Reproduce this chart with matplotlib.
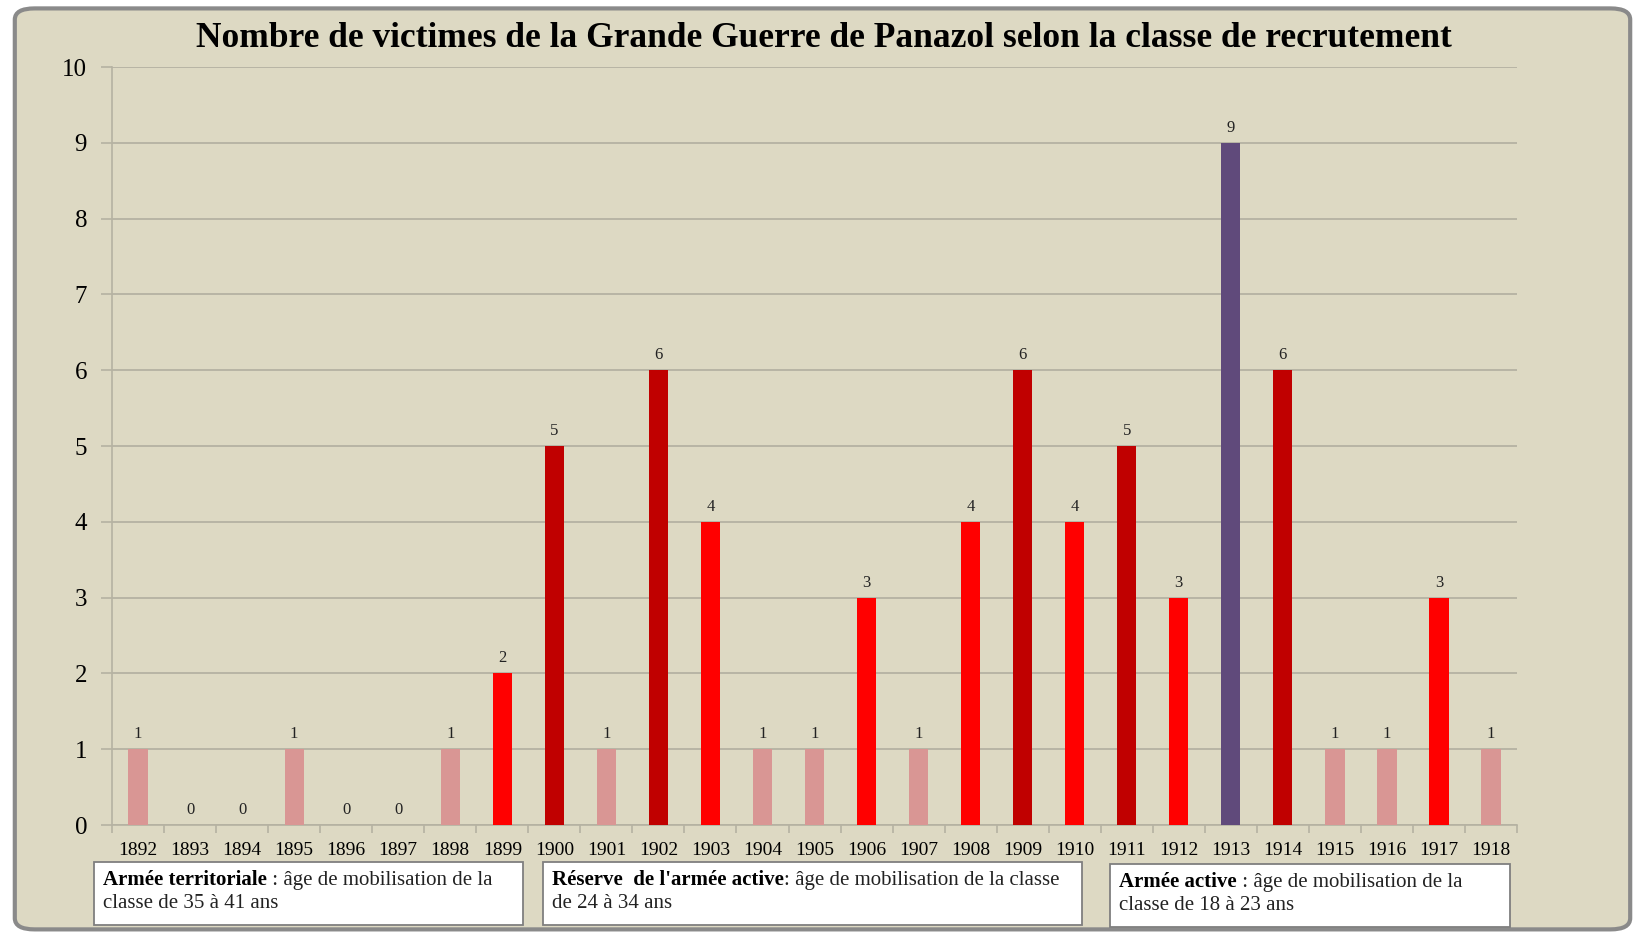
import numpy as np
import matplotlib.pyplot as plt
from matplotlib.patches import FancyBboxPatch, Rectangle

# data
years = [str(y) for y in range(1892, 1919)]
victims = [1, 0, 0, 1, 0, 0, 1, 2, 5, 1, 6, 4, 1, 1, 3, 1, 4, 6, 4, 5, 3, 9, 6, 1, 1, 3, 1]
bar_colors = ['#D99694', '#D99694', '#D99694', '#D99694', '#D99694', '#D99694', '#D99694',
              '#FF0000', '#C00000', '#D99694', '#C00000', '#FF0000', '#D99694', '#D99694',
              '#FF0000', '#D99694', '#FF0000', '#C00000', '#FF0000', '#C00000', '#FF0000',
              '#604A7B', '#C00000', '#D99694', '#D99694', '#FF0000', '#D99694']

title = "Nombre de victimes de la Grande Guerre de Panazol selon la classe de recrutement"
boxes = [
    ("Armée territoriale", " : âge de mobilisation de la", "classe de 35 à 41 ans"),
    ("Réserve  de l'armée active", ": âge de mobilisation de la classe", "de 24 à 34 ans"),
    ("Armée active", " : âge de mobilisation de la", "classe de 18 à 23 ans"),
]

FONT = 'Liberation Serif'
plt.rcParams['font.family'] = FONT
bg = '#DDD9C3'
grid_c = '#B5B2A2'

fig = plt.figure(figsize=(16.45, 9.35), dpi=100)
fig.patch.set_facecolor('white')

# rounded frame
frame = FancyBboxPatch((0.009, 0.006), 0.982, 0.985,
                       boxstyle='round,pad=0,rounding_size=0.012',
                       transform=fig.transFigure, facecolor=bg,
                       edgecolor='#8A8A8A', linewidth=3, zorder=-10)
fig.patches.append(frame)

ax = fig.add_axes([0.0681, 0.1176, 0.8541, 0.8107])
ax.set_facecolor('none')
ax.set_zorder(2)

x = np.arange(len(years))
ax.bar(x, victims, width=0.37, color=bar_colors, zorder=3)
for xi, v in zip(x, victims):
    ax.annotate(str(v), (xi, v), xytext=(0, 5), textcoords='offset points',
                ha='center', va='bottom', fontsize=12, color='#222222')

ax.set_xlim(-0.5, len(years) - 0.5)
ax.set_ylim(0, 10)
ax.set_yticks(range(0, 11))
ax.yaxis.grid(True, color=grid_c, linewidth=1.3, zorder=0)
ax.set_axisbelow(True)
ax.set_xticks(x)
ax.set_xticklabels(years, fontsize=14)
ax.set_xticks(np.arange(-0.5, len(years)), minor=True)
ax.tick_params(axis='x', which='major', length=0, pad=12)
ax.tick_params(axis='x', which='minor', length=6, color=grid_c, width=1.2)
ax.tick_params(axis='y', length=8, color=grid_c, width=1.2, pad=10, labelsize=18)
for s in ['top', 'right']:
    ax.spines[s].set_visible(False)
for s in ['left', 'bottom']:
    ax.spines[s].set_color(grid_c)
    ax.spines[s].set_linewidth(1.2)

fig.text(0.501, 0.959, title, ha='center', va='center', fontsize=25.5,
         fontweight='bold', color='black')

# text boxes below the axis
box_pos = [(94, 862, 429, 63), (543, 862, 539, 63), (1110, 864, 400, 63)]
W, H = 1645, 935
renderer = fig.canvas.get_renderer()
for (bx, by, bw, bh), (bold, rest, line2) in zip(box_pos, boxes):
    rect = Rectangle((bx / W, 1 - (by + bh) / H), bw / W, bh / H,
                     transform=fig.transFigure, facecolor='white',
                     edgecolor='#7F7F7F', linewidth=1.3, zorder=5)
    fig.patches.append(rect)
    tx = (bx + 9) / W
    ty1 = 1 - (by + 18) / H
    ty2 = 1 - (by + 42) / H
    t = fig.text(tx, ty1, bold, fontsize=15, fontweight='bold', va='center',
                 ha='left', zorder=6)
    bb = t.get_window_extent(renderer=renderer)
    fig.text(bb.x1 / W, ty1, rest, fontsize=15, va='center', ha='left', zorder=6,
             color='#222222')
    fig.text(tx, ty2, line2, fontsize=15, va='center', ha='left', zorder=6,
             color='#222222')

fig.savefig('out.png', dpi=100, facecolor=fig.get_facecolor())
